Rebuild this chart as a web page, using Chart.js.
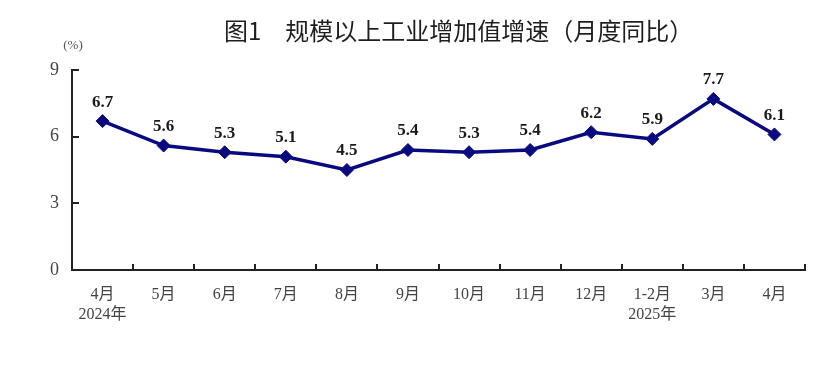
<!DOCTYPE html>
<html>
<head>
<meta charset="utf-8">
<script src="https://cdn.jsdelivr.net/npm/chart.js@4.4.1/dist/chart.umd.min.js"></script>
<style>
  html, body { margin: 0; padding: 0; background: #fff; }
  #wrap { position: relative; width: 831px; height: 377px; }
  #title { position: absolute; left: 224px; top: 18px; font: 24px/24px "Noto Sans CJK SC", sans-serif; color: #1e1e1e; white-space: pre; }
</style>
</head>
<body>
<div id="wrap">
  <div id="title">图1　规模以上工业增加值增速（月度同比）</div>
  <canvas id="c" width="831" height="377"></canvas>
</div>
<script>
// 数据
const months = [['4月', '2024年'], '5月', '6月', '7月', '8月', '9月', '10月', '11月', '12月', ['1-2月', '2025年'], '3月', '4月'];
const growth = [6.7, 5.6, 5.3, 5.1, 4.5, 5.4, 5.3, 5.4, 6.2, 5.9, 7.7, 6.1];
const yTicks = [0, 3, 6, 9];

const SERIF = '"Liberation Serif", "Times New Roman", "Noto Sans CJK SC", serif';

// 向内的刻度线 + (%) + 数值标签
const extras = {
    id: 'extras',
    afterDraw(chart) {
        const ctx = chart.ctx, x = chart.scales.x, y = chart.scales.y, area = chart.chartArea;
        ctx.save();
        ctx.strokeStyle = '#222'; ctx.lineWidth = 2;
        for (let i = 0; i <= months.length; i++) {
            let px = Math.round(x.getPixelForValue(i - 0.5));
            if (i === 0) continue;
            ctx.beginPath(); ctx.moveTo(px, area.bottom); ctx.lineTo(px, area.bottom - 6); ctx.stroke();
        }
        yTicks.forEach(v => {
            if (v === 0) return;
            let py = Math.round(y.getPixelForValue(v));
            ctx.beginPath(); ctx.moveTo(area.left - 1, py); ctx.lineTo(area.left + 7, py); ctx.stroke();
        });
        ctx.fillStyle = '#555'; ctx.font = '13px ' + SERIF; ctx.textAlign = 'center'; ctx.textBaseline = 'middle';
        ctx.fillText('(%)', 73, 46);

        ctx.fillStyle = '#1a1a1a'; ctx.font = 'bold 17px ' + SERIF; ctx.textBaseline = 'middle';
        chart.getDatasetMeta(0).data.forEach((pt, i) => {
            ctx.fillText(growth[i].toFixed(1), pt.x, pt.y - 19);
        });
        ctx.restore();
    }
};

new Chart(document.getElementById('c'), {
    type: 'line',
    data: {
        labels: months,
        datasets: [{
            data: growth,
            borderColor: '#0a0a80',
            borderWidth: 3.5,
            pointStyle: 'rectRot',
            pointRadius: 6.5,
            pointBackgroundColor: '#0a0a80',
            pointBorderColor: '#0a0a80',
            pointBorderWidth: 1,
            tension: 0
        }]
    },
    options: {
        responsive: false,
        animation: false,
        layout: { padding: { top: 70, right: 26, left: 0, bottom: 0 } },
        plugins: { legend: { display: false }, tooltip: { enabled: false } },
        scales: {
            x: {
                offset: true,
                grid: { display: false, drawTicks: false, offset: true },
                border: { display: true, color: '#222', width: 2 },
                ticks: { color: '#444', font: { family: SERIF, size: 16, lineHeight: 1.3 }, padding: 14, maxRotation: 0, autoSkip: false },
                afterFit: s => { s.height = 107; }
            },
            y: {
                min: 0, max: 9,
                afterBuildTicks: s => { s.ticks = yTicks.map(v => ({ value: v })); },
                grid: { display: false, drawTicks: false },
                border: { display: true, color: '#222', width: 2 },
                ticks: { color: '#444', font: { family: SERIF, size: 18 }, padding: 13 },
                afterFit: s => { s.width = 72; }
            }
        }
    },
    plugins: [extras]
});
</script>
</body>
</html>
